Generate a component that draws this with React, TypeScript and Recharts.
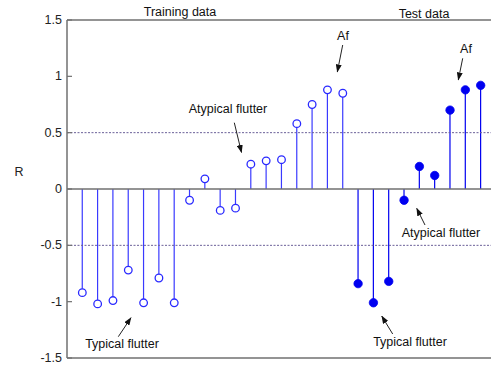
import React from 'react';
import { ComposedChart, Bar, Scatter, XAxis, YAxis, ReferenceLine, Cell } from 'recharts';

const trainingIndex = [1, 2, 3, 4, 5, 6, 7, 8, 9, 10, 11, 12, 13, 14, 15, 16, 17, 18];
const trainingR = [-0.92, -1.02, -0.99, -0.72, -1.01, -0.79, -1.01, -0.1, 0.09, -0.19, -0.17, 0.22, 0.25, 0.26, 0.58, 0.75, 0.88, 0.85];
const testIndex = [19, 20, 21, 22, 23, 24, 25, 26, 27];
const testR = [-0.84, -1.01, -0.82, -0.1, 0.2, 0.12, 0.7, 0.88, 0.92];
const yTicks = [-1.5, -1, -0.5, 0, 0.5, 1, 1.5];
const yTickLabels = ['-1.5', '-1', '-0.5', '0', '0.5', '1', '1.5'];
const xDomain = [0, 28];

const trainData = trainingIndex.map((x, i) => ({ x, r: trainingR[i], set: 'train' }));
const testData = testIndex.map((x, i) => ({ x, r: testR[i], set: 'test' }));
const allData = [...trainData, ...testData];

const FONT = '"Liberation Sans", Arial, Helvetica, sans-serif';
const FS = 12.5;
const AXIS = '#707070';

const YTick = (props: any) => {
  const { x, y, payload } = props;
  const idx = yTicks.indexOf(payload.value);
  const label = idx >= 0 ? yTickLabels[idx] : String(payload.value);
  return (
    <g>
      <text x={x} y={y} textAnchor="end" dominantBaseline="central" fontSize={FS} fontFamily={FONT} fill="#222">
        {label}
      </text>
      <line x1={x + 5} x2={x + 10} y1={y} y2={y} stroke={AXIS} strokeWidth={1.2} />
    </g>
  );
};

const OpenCircle = (props: any) => (
  <circle cx={props.cx} cy={props.cy} r={3.8} fill="#fff" stroke="#2a2aff" strokeWidth={1.3} />
);
const FilledCircle = (props: any) => (
  <circle cx={props.cx} cy={props.cy} r={4.2} fill="#0000f0" stroke="#0000f0" strokeWidth={0.8} />
);

const Arrow = ({ x1, y1, x2, y2 }: { x1: number; y1: number; x2: number; y2: number }) => (
  <line x1={x1} y1={y1} x2={x2} y2={y2} stroke="#222" strokeWidth={1} markerEnd="url(#ah)" />
);

const Txt = ({ x, y, children }: any) => (
  <text x={x} y={y} textAnchor="middle" fontSize={FS} fontFamily={FONT} fill="#111">
    {children}
  </text>
);

export default function App() {
  return (
    <div style={{ position: 'absolute', left: 0, top: 0, width: 491, height: 369, overflow: 'hidden', background: '#fff' }}>
      <ComposedChart width={496} height={369} data={allData} margin={{ top: 20, right: 0, bottom: 11, left: 0 }}>
        <XAxis dataKey="x" type="number" domain={xDomain} hide />
        <YAxis
          type="number"
          domain={[-1.5, 1.5]}
          ticks={yTicks}
          width={67}
          tickSize={0}
          tickMargin={5}
          tickLine={false}
          tick={<YTick />}
          axisLine={{ stroke: AXIS, strokeWidth: 1.5 }}
          allowDataOverflow
        />
        <ReferenceLine y={1.5} stroke={AXIS} strokeWidth={1.5} />
        <ReferenceLine y={-1.5} stroke={AXIS} strokeWidth={1.5} />
        <ReferenceLine y={0.5} stroke="#6a5f98" strokeWidth={1} strokeDasharray="2 1.5" />
        <ReferenceLine y={-0.5} stroke="#6a5f98" strokeWidth={1} strokeDasharray="2 1.5" />
        <Bar dataKey="r" barSize={1.2} isAnimationActive={false}>
          {allData.map((d, i) => (
            <Cell key={i} fill={d.set === 'train' ? '#3a3aff' : '#0000f0'} />
          ))}
        </Bar>
        <ReferenceLine y={0} stroke={AXIS} strokeWidth={1.5} />
        <Scatter data={trainData} dataKey="r" shape={<OpenCircle />} isAnimationActive={false} />
        <Scatter data={testData} dataKey="r" shape={<FilledCircle />} isAnimationActive={false} />
      </ComposedChart>
      <svg width={491} height={369} style={{ position: 'absolute', left: 0, top: 0, pointerEvents: 'none' }}>
        <defs>
          <marker id="ah" markerWidth="8" markerHeight="6" refX="7.5" refY="3" orient="auto" markerUnits="userSpaceOnUse">
            <path d="M0,0 L8,3 L0,6 Z" fill="#111" />
          </marker>
        </defs>
        <Txt x={180} y={16}>Training data</Txt>
        <Txt x={424} y={18}>Test data</Txt>
        <text x={19} y={176} textAnchor="middle" fontSize={FS} fontFamily={FONT} fill="#222">R</text>
        <Txt x={228} y={113}>Atypical flutter</Txt>
        <Arrow x1={234.3} y1={122.7} x2={241.5} y2={152.5} />
        <Txt x={343} y={39.5}>Af</Txt>
        <Arrow x1={342.7} y1={45} x2={337.3} y2={72} />
        <Txt x={466} y={53}>Af</Txt>
        <Arrow x1={462.7} y1={58.3} x2={458.3} y2={80} />
        <Txt x={441} y={237}>Atypical flutter</Txt>
        <Arrow x1={425} y1={225} x2={416.7} y2={208.3} />
        <Txt x={122} y={348}>Typical flutter</Txt>
        <Arrow x1={118.3} y1={336.7} x2={131} y2={317.7} />
        <Txt x={410} y={346}>Typical flutter</Txt>
        <Arrow x1={392.7} y1={334} x2={381.7} y2={316} />
      </svg>
    </div>
  );
}
